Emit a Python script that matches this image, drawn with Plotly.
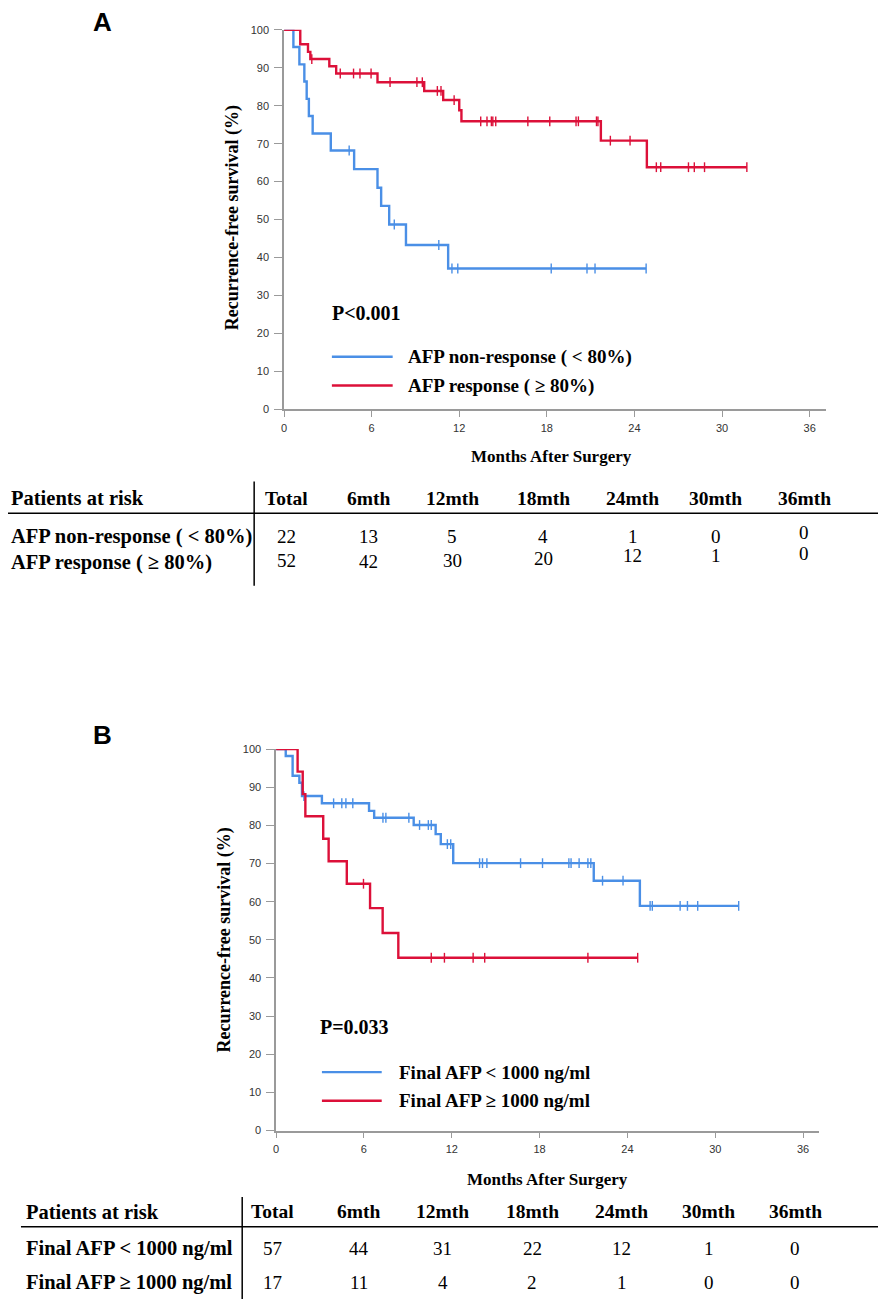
import plotly.graph_objects as go

W, H = 886, 1309
PAD = 8  # default page margin around the plot div
FW, FH = W - 2 * PAD, H - 2 * PAD

# ---- data ----
# Panel A: AFP non-response (<80%) vs AFP response (>=80%)
a_nonresp_t = [0, 0.64, 1.05, 1.39, 1.55, 1.7, 1.96, 3.2, 4.8, 6.4, 6.65, 7.2, 8.35, 11.24, 24.8]
a_nonresp_s = [100, 95.5, 90.9, 86.4, 81.8, 77.3, 72.7, 68.2, 63.3, 58.4, 53.6, 48.7, 43.3, 37.1, 37.1]
a_nonresp_cens_t = [4.46, 7.55, 10.6, 11.5, 11.9, 18.3, 20.75, 21.3, 24.8]
a_nonresp_cens_s = [68.2, 48.7, 43.3, 37.1, 37.1, 37.1, 37.1, 37.1, 37.1]

a_resp_t = [0, 1.11, 1.64, 1.8, 3.1, 3.57, 6.4, 9.6, 10.9, 12.0, 12.15, 21.7, 24.85, 31.7]
a_resp_s = [100, 96.2, 94.2, 92.3, 90.4, 88.5, 86.2, 83.9, 81.5, 78.8, 75.9, 70.8, 63.8, 63.8]
a_resp_cens_t = [1.9, 3.85, 4.76, 5.2, 5.96, 7.26, 9.1, 9.47, 10.5, 10.75, 11.65,
                 13.47, 13.9, 14.2, 14.3, 14.5, 16.7, 18.2, 20.0, 20.16, 21.4, 21.5,
                 22.35, 23.7, 25.5, 25.8, 27.7, 28.1, 28.8, 31.7]
a_resp_cens_s = [92.3, 88.5, 88.5, 88.5, 88.5, 86.2, 86.2, 86.2, 83.9, 83.9, 81.5,
                 75.9, 75.9, 75.9, 75.9, 75.9, 75.9, 75.9, 75.9, 75.9, 75.9, 75.9,
                 70.8, 70.8, 63.8, 63.8, 63.8, 63.8, 63.8, 63.8]

# Panel B: Final AFP < 1000 vs >= 1000 ng/ml
b_low_t = [0, 0.66, 1.13, 1.59, 1.77, 3.13, 6.35, 6.7, 9.4, 10.9, 11.25, 12.1, 21.7, 24.85, 31.6]
b_low_s = [100, 98.2, 93.0, 91.2, 87.7, 85.8, 83.8, 82.0, 80.1, 77.7, 75.1, 70.1, 65.5, 58.9, 58.9]
b_low_cens_t = [1.9, 3.93, 4.49, 4.77, 5.24, 7.3, 7.5, 9.07, 9.8, 10.4, 10.6, 11.7, 11.93,
                13.9, 14.1, 14.4, 16.7, 18.2, 20.0, 20.15, 20.7, 21.3, 21.5,
                22.3, 23.7, 25.55, 25.7, 27.6, 28.1, 28.8, 31.6]
b_low_cens_s = [87.7, 85.8, 85.8, 85.8, 85.8, 82.0, 82.0, 82.0, 80.1, 80.1, 80.1, 75.1, 75.1,
                70.1, 70.1, 70.1, 70.1, 70.1, 70.1, 70.1, 70.1, 70.1, 70.1,
                65.5, 65.5, 58.9, 58.9, 58.9, 58.9, 58.9, 58.9]

b_high_t = [0, 1.47, 1.82, 2.0, 3.22, 3.59, 4.83, 6.42, 7.28, 8.35, 24.7]
b_high_s = [100, 94.1, 88.2, 82.4, 76.5, 70.6, 64.7, 58.3, 51.8, 45.3, 45.3]
b_high_cens_t = [5.97, 10.6, 11.5, 13.46, 14.25, 21.3, 24.7]
b_high_cens_s = [64.7, 45.3, 45.3, 45.3, 45.3, 45.3, 45.3]

# at-risk tables
risk_cols = ["Total", "6mth", "12mth", "18mth", "24mth", "30mth", "36mth"]
a_groups = ["AFP non-response ( < 80%)", "AFP response ( \u2265 80%)"]
a_risk_nonresp = [22, 13, 5, 4, 1, 0, 0]
a_risk_resp = [52, 42, 30, 20, 12, 1, 0]
b_groups = ["Final AFP < 1000 ng/ml", "Final AFP \u2265 1000 ng/ml"]
b_risk_low = [57, 44, 31, 22, 12, 1, 0]
b_risk_high = [17, 11, 4, 2, 1, 0, 0]

p_text_a = "P<0.001"
p_text_b = "P=0.033"

BLUE = "#4A8FE6"
RED = "#DC1039"
SERIF = "Liberation Serif, Times New Roman, serif"
SANS = "Liberation Sans, Arial, sans-serif"


# reference pixel -> paper fraction (the div sits PAD px in from the page corner)
def px(x):
    return (x - PAD) / FW


def py(y):
    return 1 - (y - PAD) / FH


fig = go.Figure()


def add_km(t, s, ct, cs, color, xa, ya):
    fig.add_trace(go.Scatter(x=t, y=s, mode="lines", line=dict(color=color, width=2.4, shape="hv"),
                             xaxis=xa, yaxis=ya, showlegend=False, cliponaxis=False))
    fig.add_trace(go.Scatter(x=ct, y=cs, mode="markers",
                             marker=dict(symbol="line-ns", size=7, line=dict(color=color, width=1.4)),
                             xaxis=xa, yaxis=ya, showlegend=False, cliponaxis=False))


add_km(a_nonresp_t, a_nonresp_s, a_nonresp_cens_t, a_nonresp_cens_s, BLUE, "x", "y")
add_km(a_resp_t, a_resp_s, a_resp_cens_t, a_resp_cens_s, RED, "x", "y")
add_km(b_low_t, b_low_s, b_low_cens_t, b_low_cens_s, BLUE, "x2", "y2")
add_km(b_high_t, b_high_s, b_high_cens_t, b_high_cens_s, RED, "x2", "y2")

axis_common = dict(showgrid=False, zeroline=False, showline=True, linecolor="#9a9a9a", linewidth=1.5,
                   ticks="outside", tickcolor="#9a9a9a", tickwidth=1.2,
                   tickfont=dict(family=SANS, size=11, color="#333"))

xmax = 37.1
fig.update_layout(
    width=FW, height=FH, margin=dict(l=0, r=0, t=0, b=0),
    paper_bgcolor="white", plot_bgcolor="white",
    xaxis=dict(domain=[px(282), px(282 + xmax * 14.65)], range=[0, xmax], tickvals=[0, 6, 12, 18, 24, 30, 36],
               ticklen=6, ticklabelstandoff=2, anchor="y", **axis_common),
    yaxis=dict(domain=[py(407), py(24)], range=[0, 100], tickvals=list(range(0, 101, 10)),
               ticklen=8, ticklabelstandoff=3, anchor="x", **axis_common),
    xaxis2=dict(domain=[px(274), px(274 + xmax * 14.69)], range=[0, xmax], tickvals=[0, 6, 12, 18, 24, 30, 36],
                ticklen=6, ticklabelstandoff=2, anchor="y2", **axis_common),
    yaxis2=dict(domain=[py(1135), py(750)], range=[0, 100], tickvals=list(range(0, 101, 10)),
                ticklen=8, ticklabelstandoff=3, anchor="x2", **axis_common),
)

ann = []
shapes = []


def text(x, y, s, size, bold=False, anchor="left", family=SERIF, angle=0):
    ann.append(dict(x=px(x), y=py(y), xref="paper", yref="paper", showarrow=False,
                    text=f"<b>{s}</b>" if bold else s, xanchor=anchor, yanchor="middle",
                    textangle=angle, borderpad=0, font=dict(family=family, size=size, color="black")))


def hline(x0, x1, y, color="black", width=1.5):
    shapes.append(dict(type="line", xref="paper", yref="paper", x0=px(x0), x1=px(x1), y0=py(y), y1=py(y),
                       line=dict(color=color, width=width)))


def vline(x, y0, y1, color="black", width=1.5):
    shapes.append(dict(type="line", xref="paper", yref="paper", x0=px(x), x1=px(x), y0=py(y0), y1=py(y1),
                       line=dict(color=color, width=width)))


# panel letters
text(100, 16, "A", 26, bold=True, anchor="center", family=SANS)
text(100, 736, "B", 26, bold=True, anchor="center", family=SANS)

# axis titles
text(230, 214, "Recurrence-free survival (%)", 18, bold=True, anchor="center", angle=-90)
text(222, 943, "Recurrence-free survival (%)", 18, bold=True, anchor="center", angle=-90)
text(550, 455, "Months After Surgery", 17, bold=True, anchor="center")
text(546, 1184, "Months After Surgery", 17, bold=True, anchor="center")

# p values
text(329, 310, p_text_a, 20, bold=True)
text(317, 1030, p_text_b, 20, bold=True)

# legends
hline(330, 391, 354, BLUE, 2.4)
hline(330, 391, 383, RED, 2.4)
text(405, 354, a_groups[0], 19, bold=True)
text(405, 383, a_groups[1], 19, bold=True)
hline(320, 380, 1076, BLUE, 2.4)
hline(320, 380, 1105, RED, 2.4)
text(396, 1076, b_groups[0], 19, bold=True)
text(396, 1105, b_groups[1], 19, bold=True)

# at-risk table A
a_cols_x = [284, 367, 451, 542, 632, 715, 804]
text(7, 497, "Patients at risk", 20.5, bold=True)
for cx, c in zip(a_cols_x, risk_cols):
    text(cx, 497, c, 19.5, bold=True, anchor="center")
hline(0, 880, 512)
vline(252, 480, 585)
text(7, 535, a_groups[0], 20.5, bold=True)
text(7, 562, a_groups[1], 20.5, bold=True)
a_row1_dy = [0, 0, 0, 0, 0, 0, -4]
a_row2_dy = [0, 1, 0, -2, -5, -5, -7]
for cx, v, dy in zip(a_cols_x, a_risk_nonresp, a_row1_dy):
    text(cx, 535 + dy, str(v), 19, anchor="center")
for cx, v, dy in zip(a_cols_x, a_risk_resp, a_row2_dy):
    text(cx, 560 + dy, str(v), 19, anchor="center")

# at-risk table B
b_cols_x = [270, 357, 441, 531, 621, 708, 795]
text(22, 1217, "Patients at risk", 20.5, bold=True)
for cx, c in zip(b_cols_x, risk_cols):
    text(cx, 1217, c, 19.5, bold=True, anchor="center")
hline(18, 880, 1232)
vline(240, 1202, 1305)
text(22, 1254, b_groups[0], 20.5, bold=True)
text(22, 1288, b_groups[1], 20.5, bold=True)
for cx, v in zip(b_cols_x, b_risk_low):
    text(cx, 1254, str(v), 19, anchor="center")
for cx, v in zip(b_cols_x, b_risk_high):
    text(cx, 1288, str(v), 19, anchor="center")

fig.update_layout(annotations=ann, shapes=shapes)
fig.write_html("out.html")
